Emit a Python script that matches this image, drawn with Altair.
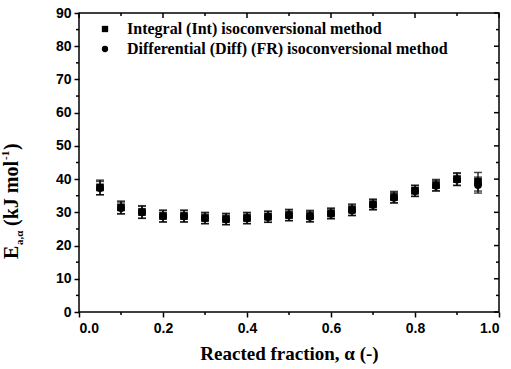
import altair as alt
import pandas as pd

alpha = [0.05, 0.10, 0.15, 0.20, 0.25, 0.30, 0.35, 0.40, 0.45, 0.50,
         0.55, 0.60, 0.65, 0.70, 0.75, 0.80, 0.85, 0.90, 0.95]
ea_int = [37.5, 31.5, 30.1, 28.9, 28.9, 28.3, 28.0, 28.3, 28.7, 29.2,
          28.9, 29.7, 30.8, 32.4, 34.6, 36.5, 38.2, 40.0, 39.2]
err_int = [2.2, 1.9, 1.9, 1.8, 1.8, 1.7, 1.7, 1.7, 1.7, 1.7,
           1.7, 1.6, 1.7, 1.6, 1.7, 1.7, 1.7, 1.9, 2.8]
ea_diff = [37.3, 31.3, 30.0, 28.8, 28.8, 28.2, 27.9, 28.2, 28.6, 29.1,
           28.7, 29.6, 30.6, 32.3, 34.4, 36.4, 38.0, 39.9, 38.2]
err_diff = [2.0, 1.8, 1.8, 1.7, 1.7, 1.6, 1.6, 1.6, 1.6, 1.6,
            1.6, 1.5, 1.6, 1.5, 1.6, 1.6, 1.6, 1.8, 2.4]

series = ["Integral (Int) isoconversional method",
          "Differential (Diff) (FR) isoconversional method"]

x_major = [0.0, 0.2, 0.4, 0.6, 0.8, 1.0]
x_minor = [0.1, 0.3, 0.5, 0.7, 0.9]
y_major = [0, 10, 20, 30, 40, 50, 60, 70, 80, 90]
y_minor = [5, 15, 25, 35, 45, 55, 65, 75, 85]

W, H = 420, 299

rows = []
for s, ea, er in [(series[0], ea_int, err_int), (series[1], ea_diff, err_diff)]:
    for a, e, d in zip(alpha, ea, er):
        rows.append({"alpha": a, "Ea": e, "lo": e - d, "hi": e + d, "series": s})
df = pd.DataFrame(rows)

xs = alt.Scale(domain=[0, 1], nice=False)
ys = alt.Scale(domain=[0, 90], nice=False)

axis_x = alt.Axis(values=x_major, format=".1f", tickSize=5, tickWidth=1.5,
                  tickColor="black", labelFont="Liberation Sans", labelFontWeight="bold",
                  labelFontSize=14, labelColor="black", labelPadding=4, domain=False,
                  labelOverlap=False, grid=False, title="Reacted fraction, α (-)",
                  titleFont="Liberation Serif", titleFontSize=19, titleFontWeight="bold",
                  titleColor="black", titlePadding=9)
axis_y = alt.Axis(values=y_major, tickSize=5, tickWidth=1.5, tickColor="black",
                  labelFont="Liberation Sans", labelFontWeight="bold", labelFontSize=14,
                  labelColor="black", labelPadding=3, domain=False, grid=False,
                  labelOverlap=False, title=None)

def X(f):
    return alt.X(f, scale=xs, axis=axis_x)

def Y(f):
    return alt.Y(f, scale=ys, axis=axis_y)

base = alt.Chart(df)

rule = base.mark_rule(color="black", strokeWidth=1.2).encode(
    x=X("alpha:Q"), y=Y("lo:Q"), y2="hi:Q")
cap_lo = base.mark_tick(color="black", orient="horizontal", size=8, thickness=1.5).encode(
    x=X("alpha:Q"), y=Y("lo:Q"))
cap_hi = base.mark_tick(color="black", orient="horizontal", size=8, thickness=1.5).encode(
    x=X("alpha:Q"), y=Y("hi:Q"))

points = base.mark_point(filled=True, opacity=1, color="black").encode(
    x=X("alpha:Q"),
    y=Y("Ea:Q"),
    shape=alt.Shape("series:N",
                    scale=alt.Scale(domain=series, range=["square", "circle"]),
                    legend=alt.Legend(title=None, orient="none", legendX=18, legendY=8,
                                      labelFont="Liberation Serif", labelFontSize=16,
                                      labelFontWeight="bold", labelColor="black",
                                      symbolFillColor="black", symbolStrokeColor="black",
                                      symbolSize=40, rowPadding=4, labelOffset=14,
                                      labelLimit=500)),
    size=alt.value(60),
)

def tick_layer(vals, side, length):
    d = alt.Chart(pd.DataFrame({"v": vals}))
    m = d.mark_rule(color="black", strokeWidth=1.5)
    if side == "bottom":
        return m.encode(x=X("v:Q"), y=alt.value(H), y2=alt.value(H + length))
    if side == "top":
        return m.encode(x=X("v:Q"), y=alt.value(0), y2=alt.value(length))
    if side == "left":
        return m.encode(y=Y("v:Q"), x=alt.value(0), x2=alt.value(-length))
    return m.encode(y=Y("v:Q"), x=alt.value(W), x2=alt.value(W - length))

ticks = [
    tick_layer(x_minor, "bottom", 3),
    tick_layer(y_minor, "left", 3),
    tick_layer(x_major, "top", 5),
    tick_layer(x_minor, "top", 3),
    tick_layer(y_major, "right", 5),
    tick_layer(y_minor, "right", 3),
]

# y-axis title with subscript / superscript, built from text pieces
title_df = pd.DataFrame({"t": [0]})
tb = alt.Chart(title_df)
X0 = -61
def piece(txt, y, size, dx=0):
    return tb.mark_text(text=txt, angle=270, align="left", baseline="alphabetic",
                        font="Liberation Serif", fontWeight="bold", fontSize=size,
                        color="black").encode(x=alt.value(X0 + dx), y=alt.value(y))

Y0 = 246
title_parts = [
    piece("E", Y0, 20),
    piece("a,α", Y0 - 14, 11, dx=5),
    piece("(kJ mol", Y0 - 33, 20),
    piece("-1", Y0 - 99, 11, dx=-9),
    piece(")", Y0 - 109, 20),
]

chart = alt.layer(rule, cap_lo, cap_hi, points, *ticks, *title_parts).properties(
    width=W, height=H,
    autosize=alt.AutoSizeParams(type="none"),
    padding={"left": 79, "top": 13, "right": 12, "bottom": 57},
    background="white",
).configure_view(stroke="black", strokeWidth=1.5)

chart.save("out.html", embed_options={"renderer": "svg", "actions": False})
